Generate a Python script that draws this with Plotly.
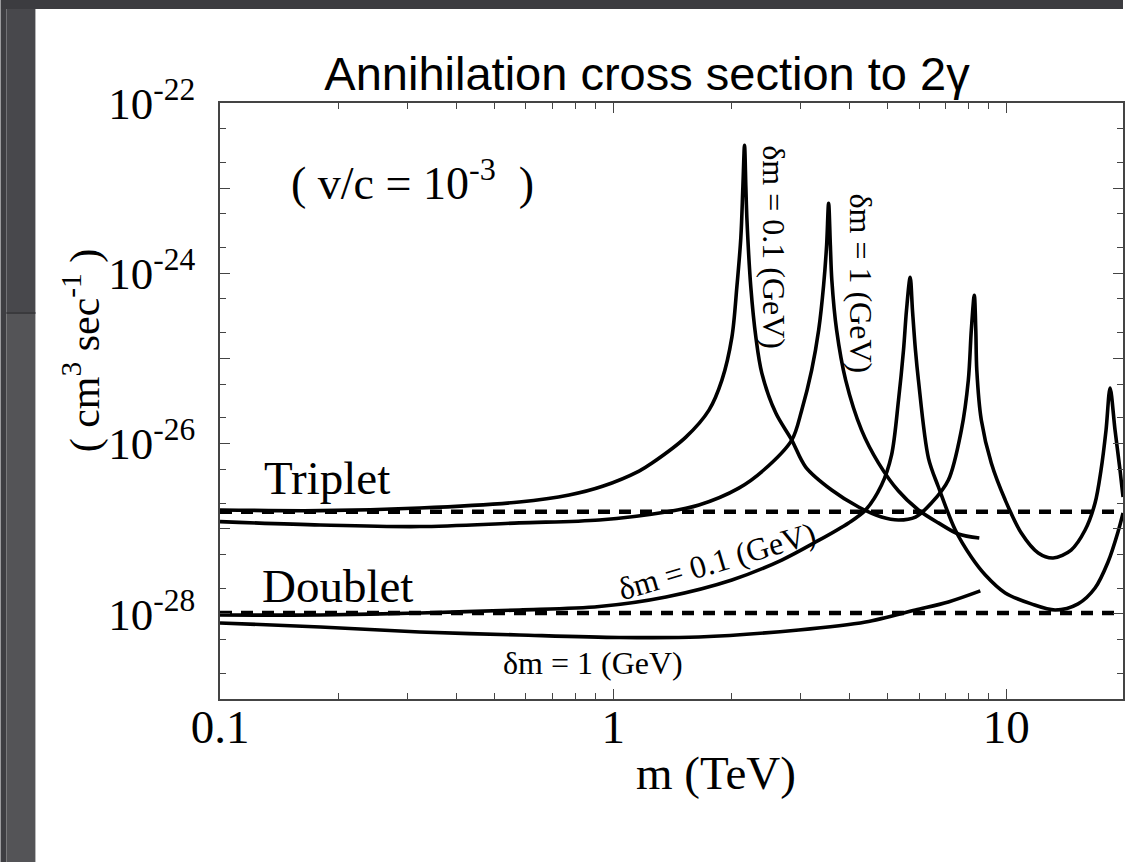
import plotly.graph_objects as go

# ---------------- data (m in TeV, sigma*v in cm^3/s) ----------------
# Triplet, delta m = 0.1 GeV
t01_m = [0.1, 0.18, 0.322, 0.577, 0.773, 0.94, 1.164, 1.256, 1.531, 1.753, 1.891, 2.005,
         2.064, 2.113, 2.138, 2.159, 2.176, 2.19, 2.24, 2.307, 2.389, 2.593, 2.847, 3.089,
         3.596, 4.211, 4.817, 5.32, 5.875, 6.451, 7.125, 7.688, 8.008, 8.149, 8.293, 8.366,
         8.415, 8.64, 9.16, 9.94, 10.92, 12.06, 13.16, 14.62, 15.87, 16.82, 17.42, 17.94,
         18.37, 18.91, 19.47, 19.82]
t01_s = [1.66e-27, 1.63e-27, 1.75e-27, 2.06e-27, 2.49e-27, 3.15e-27, 4.75e-27, 5.9e-27,
         1.19e-26, 2.47e-26, 5.56e-26, 1.78e-25, 6.87e-25, 2.65e-24, 1.02e-23, 3.19e-23,
         1.02e-23, 4.2e-24, 6.87e-25, 1.78e-25, 6.72e-26, 2.28e-26, 1.1e-26, 5.3e-27,
         2.85e-27, 1.8e-27, 1.37e-27, 1.265e-27, 1.37e-27, 2.0e-27, 3.73e-27, 1.44e-26,
         5.56e-26, 2.15e-25, 5.53e-25, 2.15e-25, 7.29e-26, 1.89e-26, 5.9e-27, 2.17e-27,
         8.9e-28, 5.19e-28, 4.53e-28, 5.62e-28, 9.65e-28, 2.0e-27, 4.89e-27, 1.44e-26,
         4.48e-26, 1.44e-26, 4.89e-27, 2.36e-27]

# Triplet, delta m = 1 GeV
t1_m = [0.1, 0.18, 0.322, 0.577, 0.922, 1.363, 1.653, 2.088, 2.416, 2.847, 3.018, 3.199,
        3.333, 3.431, 3.492, 3.533, 3.569, 3.6, 3.702, 3.904, 4.285, 4.733, 5.32, 5.978,
        6.721, 7.554, 8.54]
t1_s = [1.21e-27, 1.105e-27, 1.06e-27, 1.17e-27, 1.265e-27, 1.57e-27, 1.9e-27, 3.0e-27,
        4.89e-27, 1.1e-26, 2.47e-26, 7.29e-26, 2.15e-25, 7.25e-25, 2.14e-24, 6.65e-24,
        2.14e-24, 8.3e-25, 2.15e-25, 5.56e-26, 1.44e-26, 5.9e-27, 2.77e-27, 1.66e-27,
        1.17e-27, 8.66e-28, 7.78e-28]

# Doublet, delta m = 0.1 GeV
d01_m = [0.1, 0.18, 0.322, 0.577, 0.922, 1.363, 2.005, 2.685, 3.275, 3.972, 4.387, 4.817,
         5.107, 5.32, 5.478, 5.575, 5.697, 5.773, 5.875, 5.978, 6.339, 6.721, 7.42, 8.149,
         8.845, 9.94, 11.58, 13.32, 15.23, 16.82, 18.15, 19.24, 19.82]
d01_s = [9.7e-29, 9.7e-29, 1.025e-28, 1.11e-28, 1.22e-28, 1.58e-28, 2.5e-28, 4.29e-28,
         6.98e-28, 1.17e-27, 1.66e-27, 3.26e-27, 7.33e-27, 3.24e-26, 1.25e-25, 3.69e-25,
         9.0e-25, 3.69e-25, 1.25e-25, 5.56e-26, 6.76e-27, 3.09e-27, 9.65e-28, 4.65e-28,
         2.86e-28, 1.76e-28, 1.31e-28, 1.11e-28, 1.31e-28, 2.01e-28, 4.06e-28, 9.14e-28,
         1.53e-27]

# Doublet, delta m = 1 GeV
d1_m = [0.1, 0.18, 0.322, 0.577, 1.036, 1.653, 2.966, 4.387, 5.875, 7.125, 8.59]
d1_s = [7.82e-29, 7.02e-29, 6.13e-29, 5.65e-29, 5.28e-29, 5.35e-29, 6.47e-29, 8.03e-29,
        1.11e-28, 1.38e-28, 1.86e-28]

# dashed reference levels
ref_m = [0.1, 20.0]
triplet_ref = 1.58e-27
doublet_ref = 1.02e-28

# axis ticks
x_tickvals = [0.1, 1, 10]
x_ticktext = ["0.1", "1", "10"]
y_exps = [-22, -23, -24, -25, -26, -27, -28, -29]
y_labeled = [-22, -24, -26, -28]

# ---------------- layout geometry ----------------
W, H = 1125, 862
L, R, T, B = 220, 0, 103, 163
PW, PH = W - L - R, H - T - B

def paper(px, py):
    return (px - L) / PW, (H - B - py) / PH

SERIF = "Liberation Serif, Times New Roman, serif"
SANS = "Liberation Sans, Arial, sans-serif"

fig = go.Figure()

solid = dict(color="black", width=3.6, shape="spline", smoothing=0.9)
for xs, ys in [(t01_m, t01_s), (t1_m, t1_s), (d01_m, d01_s), (d1_m, d1_s)]:
    fig.add_trace(go.Scatter(x=xs, y=ys, mode="lines", line=solid, showlegend=False,
                             hoverinfo="skip"))

for lev in (triplet_ref, doublet_ref):
    fig.add_trace(go.Scatter(x=ref_m, y=[lev, lev], mode="lines",
                             line=dict(color="black", width=4.5, dash="12px,9px"),
                             showlegend=False, hoverinfo="skip"))

axcol = "#444444"
x_minor = [k * d for d in (0.1, 1, 10) for k in range(2, 10)] + [20]
y_minor = [k * 10.0 ** e for e in range(-29, -22) for k in (2, 5)]

fig.update_xaxes(type="log", range=[-1, -1 + PW / 394.0], showgrid=False, zeroline=False,
                 showline=True, linecolor=axcol, linewidth=1.5, mirror="allticks",
                 ticks="inside", ticklen=10, tickwidth=1.3, tickcolor=axcol,
                 tickmode="array", tickvals=x_tickvals, ticktext=x_ticktext,
                 tickfont=dict(family=SERIF, size=47, color="black"),
                 ticklabelstandoff=-14,
                 minor=dict(ticks="inside", ticklen=6, tickwidth=1.2, tickcolor=axcol,
                            tickvals=x_minor, showgrid=False))

fig.update_yaxes(type="log", range=[-29, -22], showgrid=False, zeroline=False,
                 showline=True, linecolor=axcol, linewidth=1.5, mirror="allticks",
                 ticks="inside", ticklen=10, tickwidth=1.3, tickcolor=axcol,
                 tickmode="array", tickvals=[10.0 ** e for e in y_exps],
                 ticktext=[("10<sup>%d</sup>" % e) if e in y_labeled else "" for e in y_exps],
                 tickfont=dict(family=SERIF, size=45, color="black"),
                 ticklabelstandoff=14,
                 minor=dict(ticks="inside", ticklen=6, tickwidth=1.2, tickcolor=axcol,
                            tickvals=y_minor, showgrid=False))

annotations = []
def ann(text, px, py, size, family=SERIF, angle=0):
    x, y = paper(px, py)
    annotations.append(dict(text=text, x=x, y=y, xref="paper", yref="paper",
                            xanchor="center", yanchor="middle", showarrow=False,
                            textangle=angle, font=dict(family=family, size=size, color="black")))

ann("( v/c = 10<sup>-3</sup>  )", 413, 180, 46)
ann("Triplet", 327, 478, 47)
ann("Doublet", 338, 586, 47)
ann("δm = 0.1 (GeV)", 775, 247, 32, angle=90)
ann("δm = 1 (GeV)", 862, 283, 32, angle=90)
ann("δm = 0.1 (GeV)", 718, 561, 32, angle=-16.5)
ann("δm = 1 (GeV)", 594, 663, 32)
ann("m (TeV)", 717, 773, 47)
ann("( cm<sup>3</sup> sec<sup>-1</sup> )", 82, 350, 42, angle=-90)

# slide frame (dark border of the screenshot)
shapes = []
def rect(x0, y0, x1, y1, color):
    a0, b0 = paper(x0, y0)
    a1, b1 = paper(x1, y1)
    shapes.append(dict(type="rect", xref="paper", yref="paper", x0=a0, x1=a1, y0=b1, y1=b0,
                       fillcolor=color, line=dict(width=0), layer="above"))

rect(0, 9, 6, H, "#3e3e42")
rect(6, 9, 35, 313, "#48484c")
rect(6, 313, 35, H, "#545457")
rect(6, 312, 35, 314, "#3a3a3d")
rect(0, 0, W, 9, "#3c3c40")

fig.update_layout(
    width=W, height=H, margin=dict(l=L, r=R, t=T, b=B, pad=0),
    paper_bgcolor="white", plot_bgcolor="white",
    title=dict(text="Annihilation cross section to 2γ", x=647 / W, xanchor="center",
               xref="container", y=1 - 74 / H, yref="container", yanchor="middle",
               font=dict(family=SANS, size=47, color="black")),
    annotations=annotations, shapes=shapes, showlegend=False,
)

fig.write_html("out.html")
